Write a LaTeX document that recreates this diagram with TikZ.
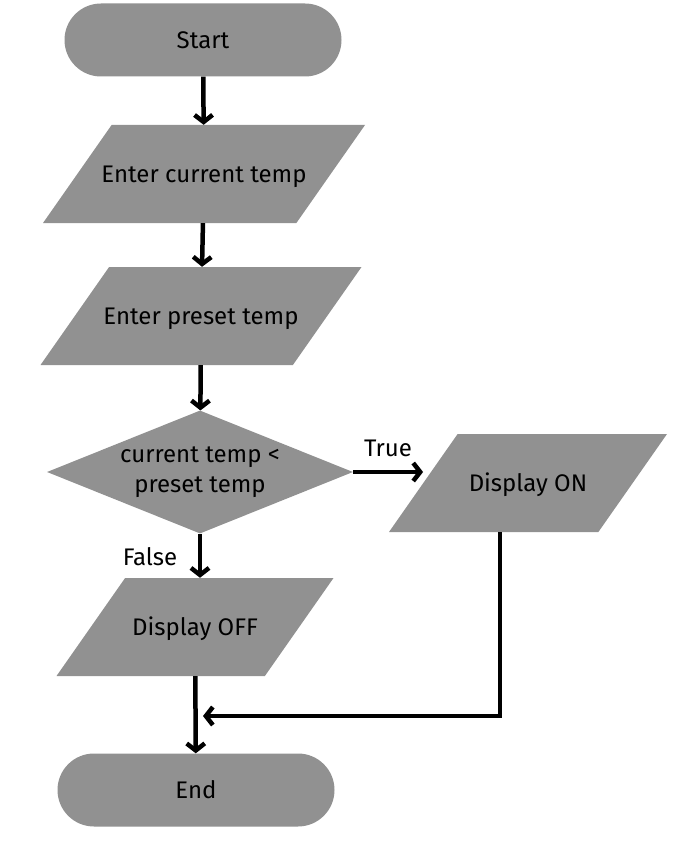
\documentclass[tikz,border=0pt]{standalone}
\usepackage{fontspec}
\setmainfont{Fira Sans}
\usetikzlibrary{shapes.geometric,arrows.meta}
\definecolor{boxgray}{RGB}{145,145,145}
\begin{document}
\begin{tikzpicture}[x=1pt,y=-1pt,
    every node/.style={font=\fontsize{24}{30}\selectfont},
    term/.style={fill=boxgray,rounded corners=36.5pt,minimum width=277pt,minimum height=73pt},
    io/.style={fill=boxgray,trapezium,trapezium left angle=55,trapezium right angle=125,
      trapezium stretches body,minimum width=#1,text height=19pt,text depth=3pt,
      inner xsep=-20pt,inner ysep=38pt},
    test/.style={fill=boxgray,diamond,aspect=2.5,minimum width=306pt,minimum height=123pt,
      inner sep=0pt,align=center},
    >={Straight Barb[length=7pt,width=18pt]}]
  \useasboundingbox (0,0) rectangle (688,848);
  \draw
    (203,40) node[term] (start){Start}
    (204,174) node[io=322pt] (cur){Enter current temp}
    (201,316) node[io=321pt] (pre){Enter preset temp}
    (200,472) node[test] (cmp){current temp <\\preset temp}
    (528,483) node[io=278pt] (on){Display ON}
    (195,627) node[io=277pt] (off){Display OFF}
    (196,790) node[term] (end){End}
    (388,448) node (true){True}
    (150,557) node (false){False};
  \coordinate (turn) at (500,716);
  \coordinate (join) at (203,716);
  \begin{scope}[->,line width=4.5pt]
    \draw (start) to (cur);
    \draw (cur) to (pre);
    \draw (pre) to (cmp);
    \draw (cmp.east) to (cmp.east -| on.west);
    \draw (cmp.south) to (cmp.south |- off.north);
    \draw (off) to (end);
    \draw (turn |- on.south) -- (turn) -- (join);
  \end{scope}
\end{tikzpicture}
\end{document}
